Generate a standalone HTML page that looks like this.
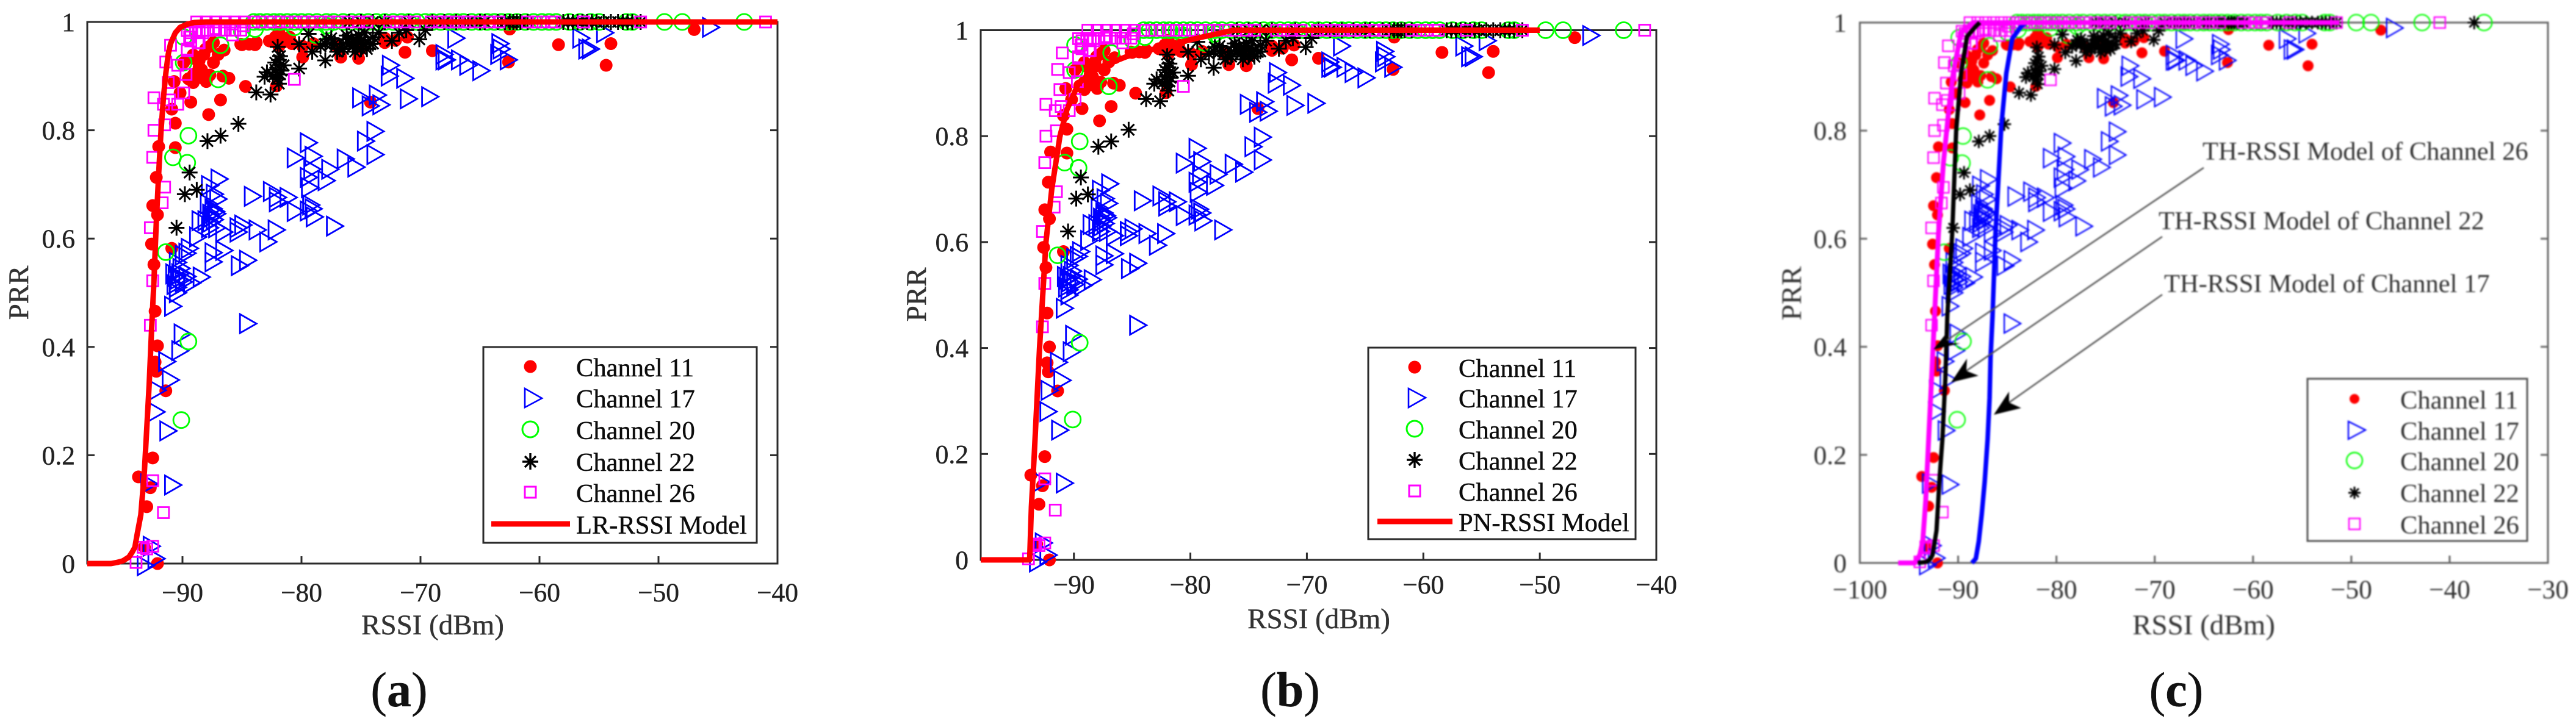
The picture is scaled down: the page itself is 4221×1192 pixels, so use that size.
<!DOCTYPE html>
<html lang="en">
<head>
<meta charset="utf-8">
<title>PRR vs RSSI models</title>
<style>
html,body{margin:0;padding:0;background:#fff}
svg{display:block}
text{font-family:"Liberation Serif",serif;fill:#222;stroke:#222;stroke-width:.45px}
.leg{font-size:42.5px;fill:#0c0c0c;stroke:#0c0c0c}
.axt{font-size:47px;fill:#333;stroke:#333}
.cap{font-size:80px;fill:#111;stroke:#111}
#panel-c-content text{fill:#333;stroke:none}
</style>
</head>
<body>
<svg id="figure" xmlns="http://www.w3.org/2000/svg" width="4221" height="1192" viewBox="0 0 4221 1192">
<rect width="4221" height="1192" fill="#fff"/>

<g id="panel-a">
  <g id="plot-a"></g>
  <text class="axt" transform="translate(46,480) rotate(-90)" text-anchor="middle">PRR</text>
  <text class="axt" x="709" y="1040" text-anchor="middle">RSSI (dBm)</text>
  <g>
    <rect x="792" y="569" width="448" height="321" fill="#fff" stroke="#2b2b2b" stroke-width="3"/>
    <circle cx="869" cy="601" r="10.5" fill="#f00"/>
    <path d="M860 637L888 653L860 668Z" fill="none" stroke="#00f" stroke-width="2.6"/>
    <circle cx="869" cy="704" r="13" fill="none" stroke="#0f0" stroke-width="3"/>
    <path d="M869 743V770M856 757H882M860 748L878 766M878 748L860 766" stroke="#000" stroke-width="3.4"/>
    <rect x="860" y="798" width="18" height="18" fill="none" stroke="#f0f" stroke-width="3"/>
    <line x1="805" y1="859" x2="934" y2="859" stroke="#f00" stroke-width="9"/>
    <text class="leg" x="944" y="617">Channel 11</text>
    <text class="leg" x="944" y="668">Channel 17</text>
    <text class="leg" x="944" y="720">Channel 20</text>
    <text class="leg" x="944" y="772">Channel 22</text>
    <text class="leg" x="944" y="823">Channel 26</text>
    <text class="leg" x="944" y="875">LR-RSSI Model</text>
  </g>
  <text class="cap" x="654" y="1158" text-anchor="middle">(<tspan font-weight="bold">a</tspan>)</text>
</g>

<g id="panel-b">
  <g id="plot-b"></g>
  <text class="axt" transform="translate(1517,483) rotate(-90)" text-anchor="middle">PRR</text>
  <text class="axt" x="2161" y="1030" text-anchor="middle">RSSI (dBm)</text>
  <g>
    <rect x="2242" y="570" width="438" height="314" fill="#fff" stroke="#2b2b2b" stroke-width="3"/>
    <circle cx="2318" cy="602" r="10.5" fill="#f00"/>
    <path d="M2308 637L2336 652L2308 668Z" fill="none" stroke="#00f" stroke-width="2.6"/>
    <circle cx="2318" cy="703" r="13" fill="none" stroke="#0f0" stroke-width="3"/>
    <path d="M2318 741V767M2305 754H2331M2309 745L2327 763M2327 745L2309 763" stroke="#000" stroke-width="3.4"/>
    <rect x="2309" y="796" width="18" height="18" fill="none" stroke="#f0f" stroke-width="3"/>
    <line x1="2257" y1="855" x2="2380" y2="855" stroke="#f00" stroke-width="9"/>
    <text class="leg" x="2390" y="618">Channel 11</text>
    <text class="leg" x="2390" y="668">Channel 17</text>
    <text class="leg" x="2390" y="719">Channel 20</text>
    <text class="leg" x="2390" y="770">Channel 22</text>
    <text class="leg" x="2390" y="821">Channel 26</text>
    <text class="leg" x="2390" y="871">PN-RSSI Model</text>
  </g>
  <text class="cap" x="2114" y="1158" text-anchor="middle">(<tspan font-weight="bold">b</tspan>)</text>
</g>

<g id="panel-c">
  <g id="panel-c-content" style="filter:blur(1.3px)">
    <g id="plot-c"></g>
    <text class="axt" transform="translate(2951,481) rotate(-90)" text-anchor="middle">PRR</text>
    <text class="axt" x="3611" y="1040" text-anchor="middle">RSSI (dBm)</text>
    <g>
      <rect x="3781" y="621" width="360" height="266" fill="#fff" stroke="#555" stroke-width="3"/>
      <circle cx="3858" cy="654" r="8" fill="#f00"/>
      <path d="M3848 691L3876 705L3848 720Z" fill="none" stroke="#00f" stroke-width="2.4"/>
      <circle cx="3858" cy="755" r="13" fill="none" stroke="#0f0" stroke-width="2.4"/>
      <path d="M3858 798V818M3848 808H3868M3851 801L3865 815M3865 801L3851 815" stroke="#000" stroke-width="3"/>
      <rect x="3849" y="850" width="18" height="18" fill="none" stroke="#f0f" stroke-width="2.4"/>
      <text class="leg" x="3933" y="670">Channel 11</text>
      <text class="leg" x="3933" y="721">Channel 17</text>
      <text class="leg" x="3933" y="771">Channel 20</text>
      <text class="leg" x="3933" y="823">Channel 22</text>
      <text class="leg" x="3933" y="875">Channel 26</text>
    </g>
    <g>
      <text class="leg" x="3609" y="262">TH-RSSI Model of Channel 26</text>
      <line x1="3611" y1="275" x2="3190" y2="558" stroke="#555" stroke-width="2.5"/>
      <path d="M3168 573L3188 548L3190 562L3212 563Z" fill="#000"/>
    </g>
    <g>
      <text class="leg" x="3537" y="376">TH-RSSI Model of Channel 22</text>
      <line x1="3543" y1="388" x2="3222" y2="608" stroke="#555" stroke-width="2.5"/>
      <path d="M3197 627L3223 588L3222 608L3242 616Z" fill="#000"/>
    </g>
    <g>
      <text class="leg" x="3546" y="479">TH-RSSI Model of Channel 17</text>
      <line x1="3543" y1="483" x2="3292" y2="660" stroke="#555" stroke-width="2.5"/>
      <path d="M3267 680L3292 642L3292 660L3312 669Z" fill="#000"/>
    </g>
  </g>
  <text class="cap" x="3566" y="1158" text-anchor="middle">(<tspan font-weight="bold">c</tspan>)</text>
</g>
</svg>

<script>
/* ---- measured data: [RSSI dBm, PRR] ---- */
const ch11 = [[-47,.986],[-54,.96],[-54.4,.92],[-58.4,.958],[-62.6,.926],[-62.5,.987],[-69,.947],[-71.3,.944],[-71.1,.972],[-74.2,.852],[-75.2,.933],[-76.7,.935],[-79.9,.935],[-82.1,.882],[-81.5,.963],[-82.2,.972],[-81,.972],[-81.9,.955],[-83.8,.962],[-84.4,.959],[-85.1,.959],[-84.7,.881],[-86.1,.896],[-86.5,.948],[-86.8,.856],[-87.8,.829],[-87.4,.925],[-88,.89],[-89.1,.888],[-88.6,.929],[-87.7,.955],[-89.3,.852],[-89.9,.925],[-90.6,.813],[-90.6,.768],[-92,.77],[-92.2,.713],[-92.1,.644],[-92.5,.661],[-92.6,.59],[-92.4,.552],[-90.9,.582],[-92.3,.466],[-92.1,.402],[-92.3,.372],[-92.2,.355],[-91.4,.319],[-92.5,.195],[-93.7,.16],[-92.7,.14],[-93,.105],[-92.1,0],[-93.2,.03],[-90.7,.89],[-90.9,.839],[-90.2,.869],[-89.5,.895],[-88.4,.912],[-89.1,.933],[-73,.962],[-72.1,.966],[-75,.95],[-79,.96],[-79.9,.955],[-77,.955],[-75.2,.955],[-73,.97],[-88.9,.905],[-88.2,.94],[-87,.94],[-86.6,.9],[-82.7,.965],[-80.8,.96],[-89.1,.939],[-88.05,.95],[-88.6,.917],[-87.7,.902],[-89.1,.902],[-88.4,.897],[-87.4,.962],[-81.9,.981],[-81.2,.97],[-85,.958],[-83.9,.958]];
const ch17 = [[-45.6,.99],[-54.5,.98],[-56,.95],[-56.5,.97],[-55.7,.95],[-67,.97],[-63.3,.96],[-63.2,.95],[-63.4,.94],[-62.6,.93],[-64.9,.91],[-66,.92],[-66.7,.93],[-68,.93],[-68,.94],[-67.8,.93],[-72.5,.92],[-72.6,.9],[-71.3,.896],[-75,.86],[-73.6,.865],[-74.2,.845],[-73.3,.847],[-71,.858],[-69.2,.862],[-73.8,.798],[-74.6,.78],[-73.8,.755],[-79.4,.777],[-79,.752],[-80.5,.749],[-76.3,.747],[-75.4,.732],[-77.6,.728],[-79.1,.728],[-79.4,.713],[-77.9,.707],[-79.3,.694],[-86.9,.71],[-87.7,.698],[-87.3,.682],[-87,.673],[-84.1,.678],[-82.5,.687],[-82,.676],[-82,.668],[-81.1,.676],[-80.5,.65],[-79.2,.662],[-79,.655],[-79.4,.651],[-78.9,.64],[-77.2,.623],[-87.8,.664],[-87.4,.655],[-87.1,.646],[-88.5,.633],[-88,.633],[-87.6,.63],[-87.1,.62],[-86.5,.612],[-85.3,.62],[-84.9,.625],[-83.7,.616],[-82.1,.616],[-82.8,.594],[-85.3,.612],[-88.7,.603],[-89.4,.582],[-89.6,.573],[-86.5,.578],[-87.4,.574],[-87.4,.557],[-84.5,.56],[-85.2,.55],[-90.4,.556],[-89.9,.569],[-90.7,.535],[-90.2,.535],[-89.6,.53],[-88.4,.529],[-89.2,.518],[-90.4,.51],[-90.8,.475],[-84.5,.443],[-90,.424],[-90.2,.393],[-91.3,.373],[-91,.339],[-92.1,.32],[-92.2,.28],[-91.2,.245],[-90.8,.145],[-92.8,.147],[-92.6,.032],[-92.2,.009],[-93.1,-.004],[-87.5,.64],[-87.3,.635],[-87.2,.65],[-87.6,.645],[-87.7,.62],[-90.5,.53],[-90.3,.525],[-90.6,.515],[-90.1,.545],[-89.9,.52],[-90.4,.5]];
const ch20 = [[-84,1],[-83.5,1],[-82.9,1],[-82.3,1],[-81.8,1],[-81.2,1],[-80.6,1],[-80,1],[-79.4,1],[-78.7,1],[-77.9,1],[-77.3,1],[-76.5,1],[-75.8,1],[-75.1,1],[-74.4,1],[-73.7,1],[-73,1],[-72.3,1],[-71.6,1],[-71,1],[-70.3,1],[-69.6,1],[-69,1],[-68.3,1],[-67.6,1],[-67,1],[-66.4,1],[-65.7,1],[-65,1],[-64.4,1],[-63.8,1],[-63.2,1],[-62.6,1],[-61.9,1],[-61.2,1],[-60.5,1],[-59.8,1],[-59.2,1],[-58.6,1],[-57.5,1],[-56.6,1],[-55.7,1],[-55,1],[-52.7,1],[-52.2,1],[-49.5,1],[-48,1],[-42.8,1],[-36.5,1],[-85,.982],[-83.9,.987],[-86.8,.957],[-87,.894],[-89.9,.972],[-89.9,.925],[-89.5,.79],[-90.8,.75],[-89.6,.74],[-91.4,.575],[-89.5,.41],[-90.1,.265],[-80.6,.99],[-78.8,.976],[-77.9,.993]];
const ch22 = [[-85.3,.812],[-86.8,.79],[-87.9,.78],[-89.4,.722],[-88.8,.69],[-89.8,.682],[-90.5,.62],[-83.8,.87],[-82.6,.866],[-83.1,.899],[-82,.954],[-81.8,.937],[-82.2,.912],[-81.8,.903],[-81.9,.886],[-80.2,.914],[-80.2,.959],[-79.4,.978],[-79.1,.945],[-78,.929],[-78.4,.955],[-77.9,.968],[-77.5,.959],[-76.8,.95],[-76.1,.968],[-75.7,.955],[-75.2,.976],[-74.8,.959],[-74,.972],[-74.2,.959],[-73.5,.98],[-72.4,.965],[-71.8,.98],[-70.1,.968],[-69.6,.985],[-71.2,.985],[-76.5,.959],[-75.4,.968],[-75,.95],[-82.9,.907],[-81.5,.92],[-78,.96],[-77.5,.97],[-77,.945],[-76.5,.95],[-76,.96],[-75.5,.945],[-75,.965],[-74.5,.95],[-74,.96],[-76.2,.975],[-77.2,.96],[-75.8,.97],[-75.3,.955],[-74.7,.98],[-82.4,.9],[-82,.895],[-81.7,.91],[-82.2,.925],[-81.9,.93],[-76,1],[-75,1],[-74,1],[-73,1],[-71,1],[-69,1],[-68,1],[-67,1],[-66,1],[-65,1],[-64.6,1],[-63.5,1],[-62.9,1],[-62.5,1],[-62.2,1],[-61.9,1],[-61.6,1],[-61,1],[-58,1],[-57.6,1],[-57.2,1],[-56.8,1],[-56.4,1],[-56,1],[-55.6,1],[-55.2,1],[-54.6,1],[-54,1],[-53.4,1],[-53,1],[-52.6,1],[-52.2,1],[-51.5,1],[-37.5,1]];
const ch26 = [[-41,1],[-80.6,.894],[-92.5,.153],[-91.6,.094],[-92.5,.032],[-93,.027],[-93.3,.03],[-93.9,.002],[-92.7,.44],[-92.5,.522],[-92.7,.62],[-91.7,.666],[-91.5,.695],[-92.5,.75],[-92.4,.8],[-91.5,.81],[-92.4,.86],[-91.6,.848],[-91.1,.856],[-90.4,.848],[-89.9,.869],[-91.2,.888],[-91.4,.926],[-90.4,.92],[-91,.957],[-89.7,.903],[-89.6,.95],[-89.4,.972],[-89.3,.98],[-88.7,.961],[-88.3,.98],[-87.9,.984],[-87.2,.988],[-85.8,.976],[-84.9,.993],[-89.6,.984],[-88.9,.985],[-88.6,.982],[-87.9,.985],[-87.4,.985],[-86.9,.985],[-86.4,.985],[-85.8,.985],[-85.6,.985],[-85.1,.985],[-89.3,.965],[-88.6,.962],[-89.6,.947],[-88.8,1],[-88,1],[-87.2,1],[-86.4,1],[-85.6,1],[-84.8,1],[-84,1],[-83.3,1],[-82.6,1],[-81.9,1],[-81.2,1],[-80.5,1],[-79.8,1],[-79.1,1],[-78.4,1],[-77.7,1],[-77,1],[-76.1,1],[-75.2,1],[-74.5,1],[-72.6,1],[-72,1],[-71.3,1],[-70.5,1],[-69.1,1],[-68.4,1],[-67.7,1],[-67,1],[-66.3,1],[-65.9,1],[-65,1],[-64.2,1],[-63.4,1],[-61,1],[-60.3,1],[-59.7,1],[-59,1],[-58.7,1],[-56.3,1],[-51.5,1]];

/* ---- model curves: x (dBm) / y (PRR) ---- */
const lrModelX = [-98,-96,-95.5,-95,-94.5,-94.2,-94,-93.8,-93.5,-93.2,-93,-92.8,-92.6,-92.4,-92.2,-92,-91.8,-91.6,-91.4,-91.2,-91,-90.6,-90.2,-89.6,-89,-88,-40];
const lrModelY = [0,0,.002,.005,.012,.022,.03,.055,.09,.17,.25,.33,.43,.52,.63,.72,.8,.86,.905,.94,.96,.98,.99,.996,.999,1,1];
const pnModelX = [-98,-93.8,-93.65,-93.4,-92.95,-92.4,-91.9,-91.2,-90.6,-89.6,-87.8,-85.5,-82.2,-79.4,-76.3,-50];
const pnModelY = [0,0,.1,.2,.4,.6,.7,.8,.85,.9,.93,.95,.97,.985,1,1];
const th17ModelX = [-88.6,-88.2,-87.9,-87.6,-87.3,-87,-86.8,-86.7,-86.5,-86.2,-85.6,-85.1,-84.5,-83.5,-83];
const th17ModelY = [0,.008,.04,.09,.15,.229,.305,.38,.457,.61,.81,.906,.97,.995,1];
const th22ModelX = [-94.1,-93.2,-92.8,-92.6,-92.2,-91.9,-91.6,-91.3,-91.1,-90.6,-90.2,-89.7,-89.1,-88.2,-87.8];
const th22ModelY = [0,.002,.008,.015,.06,.154,.229,.342,.457,.61,.8,.906,.974,.993,1];
const th26ModelX = [-96.1,-94.4,-93.9,-93.6,-93.3,-93,-92.7,-92.4,-92,-91.5,-91,-90.5,-89.7,-88.5,-51.2];
const th26ModelY = [0,0,.015,.04,.115,.229,.342,.457,.61,.74,.83,.906,.982,1,1];

/* ---- tick labels ---- */
const yTicks = [0,.2,.4,.6,.8,1];
const yTickLabels = ['0','0.2','0.4','0.6','0.8','1'];
const xTicksAB = [-90,-80,-70,-60,-50,-40];
const xTicksC = [-100,-90,-80,-70,-60,-50,-40,-30];

const NS = 'http://www.w3.org/2000/svg';
function mk(parent, tag, attrs) {
  const e = document.createElementNS(NS, tag);
  for (const k in attrs) e.setAttribute(k, attrs[k]);
  parent.appendChild(e);
  return e;
}

function drawPanel(p) {
  const g = document.getElementById(p.id);
  const sx = v => p.left + (v - p.xMin) * (p.right - p.left) / (p.xMax - p.xMin);
  const sy = v => p.bottom - v * (p.bottom - p.top);
  const visible = d => d[0] >= p.xMin && d[0] <= p.xMax;
  const m = p.mark;

  const frame = mk(g, 'rect', {x: p.left, y: p.top, width: p.right - p.left, height: p.bottom - p.top, fill: 'none', stroke: p.axis, 'stroke-width': 3});
  
  

  yTicks.forEach((v, i) => {
    const y = sy(v);
    const t1 = mk(g, 'line', {x1: p.left, x2: p.left + 12, y1: y, y2: y, stroke: p.axis, 'stroke-width': 3});
    
    
    const t2 = mk(g, 'line', {x1: p.right, x2: p.right - 12, y1: y, y2: y, stroke: p.axis, 'stroke-width': 3});
    
    
    const l = mk(g, 'text', {x: p.yLabelX, y: y + 15, 'text-anchor': 'end', 'font-size': 43.5});
    
    
    l.textContent = yTickLabels[i];
  });

  p.xTicks.forEach(v => {
    const x = sx(v);
    const t1 = mk(g, 'line', {x1: x, x2: x, y1: p.bottom, y2: p.bottom - 12, stroke: p.axis, 'stroke-width': 3});
    
    
    const l = mk(g, 'text', {x: x, y: p.xLabelY, 'text-anchor': 'middle', 'font-size': 43.5});
    
    
    l.textContent = '\u2212' + Math.abs(v);
  });

  ch11.filter(visible).forEach(d => {
    const c = mk(g, 'circle', {cx: sx(d[0]), cy: sy(d[1]), r: m.dot, fill: '#f00'});
    
    
  });
  ch17.filter(visible).forEach(d => {
    const x = sx(d[0]), y = sy(d[1]);
    const t = mk(g, 'path', {d: 'M' + (x - 13) + ' ' + (y - 15.5) + 'L' + (x + 14) + ' ' + y + 'L' + (x - 13) + ' ' + (y + 15.5) + 'Z', fill: 'none', stroke: '#00f', 'stroke-width': m.line});
    
    
  });
  ch20.filter(visible).forEach(d => {
    const c = mk(g, 'circle', {cx: sx(d[0]), cy: sy(d[1]), r: 13, fill: 'none', stroke: '#0f0', 'stroke-width': m.line});
    
    
  });
  ch22.filter(visible).forEach(d => {
    const x = sx(d[0]), y = sy(d[1]), a = m.star, b = a * 0.7;
    const s = mk(g, 'path', {d: 'M' + x + ' ' + (y - a) + 'V' + (y + a) + 'M' + (x - a) + ' ' + y + 'H' + (x + a) + 'M' + (x - b) + ' ' + (y - b) + 'L' + (x + b) + ' ' + (y + b) + 'M' + (x + b) + ' ' + (y - b) + 'L' + (x - b) + ' ' + (y + b), stroke: '#000', 'stroke-width': 3, fill: 'none'});
    
    
  });
  ch26.filter(visible).forEach(d => {
    const r = mk(g, 'rect', {x: sx(d[0]) - 9, y: sy(d[1]) - 9, width: 18, height: 18, fill: 'none', stroke: '#f0f', 'stroke-width': m.line});
    
    
  });

  p.models.forEach(cfg => {
    const pts = cfg.xs.map((x, i) => sx(x) + ',' + sy(cfg.ys[i])).join(' ');
    const l = mk(g, 'polyline', {points: pts, fill: 'none', stroke: cfg.color, 'stroke-width': cfg.width, 'stroke-linejoin': 'round'});
    
    
  });
}

drawPanel({id: 'plot-a', left: 143, right: 1274, top: 36, bottom: 924, xMin: -98, xMax: -40, xTicks: xTicksAB, yLabelX: 123, xLabelY: 986, axis: '#2b2b2b', mark: {dot: 10.5, star: 13, line: 2.8},
  models: [{xs: lrModelX, ys: lrModelY, color: '#f00', width: 9, name: 'lr-rssi-model-line'}]});
drawPanel({id: 'plot-b', left: 1607, right: 2714, top: 49.5, bottom: 918, xMin: -98, xMax: -40, xTicks: xTicksAB, yLabelX: 1587, xLabelY: 973, axis: '#2b2b2b', mark: {dot: 10.5, star: 13, line: 2.8},
  models: [{xs: pnModelX, ys: pnModelY, color: '#f00', width: 9, name: 'pn-rssi-model-line'}]});
drawPanel({id: 'plot-c', left: 3047.5, right: 4175, top: 37, bottom: 923, xMin: -100, xMax: -30, xTicks: xTicksC, yLabelX: 3026, xLabelY: 981, axis: '#666', mark: {dot: 9, star: 11, line: 2.3},
  models: [
    {xs: th17ModelX, ys: th17ModelY, color: '#00f', width: 7.5, name: 'th-rssi-model-channel-17'},
    {xs: th26ModelX, ys: th26ModelY, color: '#f0f', width: 8, name: 'th-rssi-model-channel-26'},
    {xs: th22ModelX, ys: th22ModelY, color: '#000', width: 7, name: 'th-rssi-model-channel-22'}
  ]});
</script>
</body>
</html>
